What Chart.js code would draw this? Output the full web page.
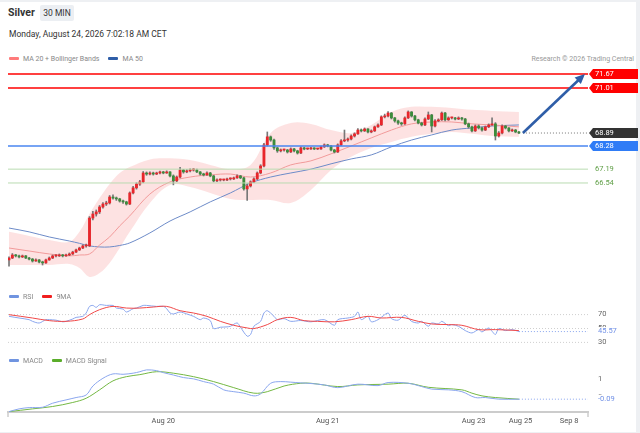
<!DOCTYPE html>
<html>
<head>
<meta charset="utf-8">
<script src="https://cdn.jsdelivr.net/npm/chart.js@4.4.1/dist/chart.umd.min.js"></script>
<style>
  body { margin: 0; width: 640px; height: 433px; background: #eef0f3; font-family: Roboto, Arial, sans-serif; overflow: hidden; }
  #panel { position: absolute; left: 0; top: 2px; width: 636px; height: 430px; background: #fff; }
  .abs { position: absolute; white-space: nowrap; }
  .title { left: 8px; top: 5px; font-size: 10.5px; font-weight: bold; color: #333; line-height: 16px; }
  .badge { left: 40px; top: 5px; width: 34px; height: 16px; background: #eceff3; border-radius: 2px;
           font-size: 8.5px; color: #333; line-height: 16px; text-align: center; }
  .date { left: 9px; top: 28px; font-size: 8.5px; color: #333; line-height: 12px; }
  .legend { font-size: 7px; color: #888; line-height: 10px; }
  .legend i { display: inline-block; width: 10px; height: 3.5px; border-radius: 1px; vertical-align: middle; margin: 0 4px 1px 0; }
  .legend span { margin-right: 9px; }
  .credit { right: 6px; top: 54px; font-size: 7px; color: #999; line-height: 10px; }
  .box { position: absolute; left: 0; width: 640px; }
</style>
</head>
<body>
<div id="panel"></div>
<div class="abs title">Silver</div>
<div class="abs badge">30 MIN</div>
<div class="abs date">Monday, August 24, 2026 7:02:18 AM CET</div>
<div class="abs legend" style="left:9px;top:54px"><span><i style="background:#ff7b7b"></i>MA 20 + Bollinger Bands</span><span><i style="background:#2f5ea8"></i>MA 50</span></div>
<div class="abs credit">Research © 2026 Trading Central</div>

<div class="box" style="top:65px;height:220px"><canvas id="price"></canvas></div>
<div class="box" style="top:300px;height:50px"><canvas id="rsi"></canvas></div>
<div class="box" style="top:360px;height:73px"><canvas id="macd"></canvas></div>

<div class="abs legend" style="left:9px;top:292px;z-index:2"><span><i style="background:#7094e0"></i>RSI</span><span><i style="background:#f01e1e"></i>9MA</span></div>
<div class="abs legend" style="left:9px;top:356px;z-index:2"><span><i style="background:#7094e0"></i>MACD</span><span><i style="background:#5aad2a"></i>MACD Signal</span></div>

<script>
// 30 min candles, index 0 = first bar on the left
const opens = [
  62.92, 63.01, 63.15, 63.11, 63.06, 63.11, 63.01, 62.96, 62.87, 62.92,
  62.82, 62.78, 62.92, 63.01, 63.11, 63.11, 63.15, 63.11, 63.15, 63.20,
  63.29, 63.39, 63.48, 63.58, 63.58, 64.89, 65.08, 65.18, 65.41, 65.55,
  65.60, 65.88, 65.83, 65.79, 65.69, 65.65, 65.55, 66.07, 66.31, 66.49,
  66.59, 67.01, 66.96, 67.01, 66.96, 67.01, 67.06, 67.01, 67.06, 66.87,
  66.64, 66.82, 67.15, 67.06, 67.11, 67.15, 67.15, 67.06, 66.96, 66.92,
  67.01, 66.87, 66.64, 66.68, 66.68, 66.68, 66.73, 66.73, 66.78, 66.87,
  66.78, 66.26, 66.40, 66.59, 66.73, 67.01, 67.34, 68.33, 68.71, 68.56,
  68.19, 68.05, 68.09, 68.09, 68.00, 68.14, 68.05, 67.95, 68.19, 68.14,
  68.14, 68.19, 68.14, 68.14, 68.24, 68.33, 68.28, 68.09, 68.00, 68.33,
  68.52, 68.56, 68.61, 68.75, 68.85, 69.03, 68.99, 69.08, 68.94, 68.99,
  69.18, 69.27, 69.65, 69.69, 69.83, 69.60, 69.46, 69.36, 69.32, 69.60,
  69.88, 69.69, 69.51, 69.36, 69.27, 69.55, 69.74, 69.22, 69.46, 69.51,
  69.83, 69.51, 69.60, 69.60, 69.55, 69.60, 69.55, 69.32, 69.18, 68.99,
  69.22, 69.13, 69.03, 69.18, 69.27, 69.32, 68.75, 68.89, 69.22, 69.13,
  68.99, 69.03, 68.94
];
const highs = [
  63.06, 63.22, 63.18, 63.15, 63.15, 63.13, 63.04, 62.99, 62.97, 62.94,
  62.86, 62.96, 63.06, 63.15, 63.17, 63.20, 63.18, 63.19, 63.25, 63.33,
  63.43, 63.52, 63.63, 63.66, 64.96, 65.20, 65.27, 65.48, 65.62, 65.68,
  65.95, 65.98, 65.88, 65.82, 65.73, 65.68, 66.12, 66.38, 66.55, 66.66,
  67.08, 67.06, 67.06, 67.05, 67.05, 67.10, 67.09, 67.11, 67.08, 66.92,
  66.87, 67.28, 67.18, 67.17, 67.20, 67.22, 67.19, 67.08, 67.00, 67.06,
  67.04, 66.90, 66.73, 66.73, 66.72, 66.77, 66.78, 66.82, 66.92, 66.90,
  66.81, 66.50, 66.64, 66.78, 67.06, 67.40, 68.40, 68.94, 68.75, 68.60,
  68.22, 68.14, 68.14, 68.12, 68.19, 68.17, 68.08, 68.24, 68.22, 68.18,
  68.22, 68.20, 68.17, 68.28, 68.38, 68.36, 68.31, 68.12, 68.38, 68.58,
  69.03, 68.66, 68.80, 68.90, 69.10, 69.08, 69.13, 69.10, 69.04, 69.22,
  69.32, 69.70, 69.78, 69.90, 69.86, 69.63, 69.50, 69.40, 69.65, 69.93,
  69.90, 69.72, 69.54, 69.40, 69.60, 69.88, 69.77, 69.52, 69.56, 69.88,
  69.86, 69.65, 69.64, 69.63, 69.65, 69.63, 69.58, 69.36, 69.22, 69.27,
  69.27, 69.17, 69.22, 69.32, 69.60, 69.38, 68.96, 69.27, 69.25, 69.15,
  69.08, 69.06, 68.97
];
const lows = [
  62.63, 62.98, 63.06, 63.01, 63.03, 62.98, 62.92, 62.82, 62.85, 62.78,
  62.68, 62.75, 62.90, 62.98, 63.06, 63.08, 63.06, 63.08, 63.12, 63.17,
  63.26, 63.36, 63.45, 63.52, 63.55, 64.80, 64.98, 65.10, 65.36, 65.48,
  65.55, 65.78, 65.72, 65.64, 65.58, 65.50, 65.52, 66.02, 66.25, 66.42,
  66.55, 66.90, 66.92, 66.91, 66.93, 66.97, 66.97, 66.99, 66.82, 66.45,
  66.60, 66.78, 67.00, 67.02, 67.06, 67.10, 67.02, 66.91, 66.87, 66.89,
  66.83, 66.59, 66.60, 66.63, 66.64, 66.65, 66.68, 66.70, 66.75, 66.74,
  66.20, 65.72, 66.35, 66.55, 66.70, 66.97, 67.30, 68.28, 68.50, 68.12,
  67.98, 68.00, 68.04, 67.95, 67.97, 68.00, 67.90, 67.92, 68.10, 68.11,
  68.12, 68.11, 68.11, 68.12, 68.21, 68.24, 68.05, 67.95, 67.97, 68.30,
  68.48, 68.50, 68.57, 68.70, 68.82, 68.94, 68.96, 68.89, 68.90, 68.96,
  69.15, 69.24, 69.60, 69.65, 69.55, 69.40, 69.30, 69.25, 69.30, 69.57,
  69.64, 69.46, 69.32, 69.22, 69.24, 69.52, 68.94, 69.18, 69.42, 69.48,
  69.46, 69.48, 69.55, 69.51, 69.52, 69.50, 69.28, 69.12, 68.94, 68.96,
  69.08, 68.98, 69.00, 69.14, 69.25, 68.56, 68.70, 68.85, 69.08, 68.94,
  68.96, 68.90, 68.86
];
const closes = [
  63.01, 63.15, 63.11, 63.06, 63.11, 63.01, 62.96, 62.87, 62.92, 62.82,
  62.78, 62.92, 63.01, 63.11, 63.11, 63.15, 63.11, 63.15, 63.20, 63.29,
  63.39, 63.48, 63.58, 63.58, 64.89, 65.08, 65.18, 65.41, 65.55, 65.60,
  65.88, 65.83, 65.79, 65.69, 65.65, 65.55, 66.07, 66.31, 66.49, 66.59,
  67.01, 66.96, 67.01, 66.96, 67.01, 67.06, 67.01, 67.06, 66.87, 66.64,
  66.82, 67.15, 67.06, 67.11, 67.15, 67.15, 67.06, 66.96, 66.92, 67.01,
  66.87, 66.64, 66.68, 66.68, 66.68, 66.73, 66.73, 66.78, 66.87, 66.78,
  66.26, 66.40, 66.59, 66.73, 67.01, 67.34, 68.33, 68.71, 68.56, 68.19,
  68.05, 68.09, 68.09, 68.00, 68.14, 68.05, 67.95, 68.19, 68.14, 68.14,
  68.19, 68.14, 68.14, 68.24, 68.33, 68.28, 68.09, 68.00, 68.33, 68.52,
  68.56, 68.61, 68.75, 68.85, 69.03, 68.99, 69.08, 68.94, 68.99, 69.18,
  69.27, 69.65, 69.69, 69.83, 69.60, 69.46, 69.36, 69.32, 69.60, 69.88,
  69.69, 69.51, 69.36, 69.27, 69.55, 69.74, 69.22, 69.46, 69.51, 69.83,
  69.51, 69.60, 69.60, 69.55, 69.60, 69.55, 69.32, 69.18, 68.99, 69.22,
  69.13, 69.03, 69.18, 69.27, 69.32, 68.75, 68.89, 69.22, 69.13, 68.99,
  69.03, 68.94, 68.89
];

// moving averages and bands, read at these candle indexes
const bandAt = [0, 6, 12, 18, 21, 24, 27, 30, 33, 36, 42, 48, 54, 60, 66, 72, 78, 84, 90, 96, 102, 108, 114, 120, 126, 132, 138, 144, 152];
const bandUpper = [64.24, 64.05, 63.86, 63.77, 64.24, 65.08, 65.83, 66.49, 67.01, 67.29, 67.65, 67.70, 67.62, 67.39, 67.19, 67.39, 68.89, 69.36, 69.32, 69.03, 68.89, 69.27, 69.88, 70.12, 70.12, 70.07, 69.98, 69.93, 69.88];
const bandLower = [62.68, 62.68, 62.68, 62.73, 62.54, 62.12, 62.30, 62.78, 63.48, 64.24, 65.60, 66.45, 66.35, 66.07, 65.79, 65.74, 65.74, 65.60, 66.21, 67.15, 67.77, 68.19, 68.47, 68.71, 68.85, 68.94, 68.85, 68.75, 68.71];
const ma20 = [63.48, 63.34, 63.20, 63.11, 63.15, 63.20, 63.62, 64.00, 64.52, 64.99, 66.02, 66.59, 66.82, 66.92, 66.96, 66.82, 67.01, 67.39, 67.58, 67.91, 68.28, 68.66, 69.03, 69.32, 69.41, 69.41, 69.32, 69.27, 69.18];
const ma50 = [64.42, 64.24, 64.00, 63.81, 63.70, 63.58, 63.53, 63.53, 63.60, 63.72, 64.19, 64.75, 65.18, 65.65, 66.07, 66.54, 66.82, 67.01, 67.19, 67.44, 67.67, 67.86, 68.24, 68.56, 68.80, 69.03, 69.13, 69.22, 69.27];

const rsiAt = [0, 3, 6, 7, 9, 11, 12, 14, 16, 17, 19, 20, 22, 23, 24, 25, 26, 27, 29, 31, 32, 34, 35, 37, 38, 40, 41, 44, 46, 47, 48, 49, 51, 53, 55, 57, 58, 60, 61, 63, 65, 66, 68, 69, 71, 72, 73, 75, 76, 77, 79, 80, 82, 84, 87, 90, 94, 97, 98, 101, 103, 104, 105, 107, 108, 110, 113, 114, 116, 118, 120, 122, 123, 125, 126, 128, 129, 131, 132, 134, 136, 138, 140, 141, 143, 144, 145, 146, 148, 150, 152];
const rsiValues = [67.5, 65.1, 62.7, 60.3, 57.9, 62.7, 62.7, 62.0, 59.6, 60.3, 63.7, 66.0, 67.5, 72.3, 81.8, 83.2, 80.4, 84.2, 83.2, 83.2, 79.4, 78.0, 73.7, 78.5, 79.4, 83.2, 83.2, 81.8, 81.8, 78.5, 72.3, 70.9, 73.7, 70.9, 67.5, 62.7, 65.1, 61.3, 49.9, 51.8, 52.3, 53.2, 58.0, 51.8, 38.9, 41.3, 53.2, 60.3, 72.3, 75.6, 67.5, 62.7, 64.2, 60.3, 61.5, 59.6, 62.7, 54.6, 62.7, 65.1, 67.5, 73.7, 62.7, 67.5, 59.6, 62.7, 72.3, 64.2, 62.0, 69.0, 60.3, 57.9, 60.3, 53.2, 57.9, 56.5, 60.3, 54.1, 55.6, 53.2, 47.0, 43.6, 48.4, 45.1, 50.8, 46.0, 41.3, 49.9, 47.0, 48.4, 45.57];
const rsiMaAt = [0, 7, 12, 17, 22, 24, 27, 31, 35, 39, 43, 47, 51, 55, 59, 63, 67, 71, 73, 77, 80, 84, 88, 92, 97, 102, 107, 111, 117, 122, 126, 131, 135, 140, 145, 152];
const rsiMaValues = [69.9, 65.1, 61.3, 60.3, 63.7, 69.9, 77.1, 81.8, 79.4, 79.4, 80.9, 81.8, 75.6, 72.3, 67.5, 60.3, 54.6, 50.8, 49.9, 55.6, 62.7, 66.0, 61.3, 60.3, 59.6, 62.7, 67.5, 65.1, 66.0, 60.3, 56.5, 55.6, 54.6, 48.4, 48.4, 47.0];

const macdAt = [0, 3, 6, 10, 13, 17, 20, 23, 25, 28, 31, 34, 37, 39, 41, 44, 46, 49, 52, 55, 58, 61, 64, 67, 70, 73, 75, 78, 81, 84, 87, 89, 94, 98, 104, 110, 113, 119, 123, 126, 131, 135, 139, 142, 146, 152];
const macdValues = [-0.77, -0.62, -0.55, -0.53, -0.31, -0.13, 0.00, 0.14, 0.63, 1.05, 1.29, 1.27, 1.33, 1.41, 1.51, 1.47, 1.36, 1.23, 1.09, 1.02, 0.87, 0.73, 0.42, 0.32, 0.24, 0.09, 0.20, 0.78, 0.87, 0.84, 0.80, 0.78, 0.69, 0.54, 0.73, 0.65, 0.82, 0.78, 0.60, 0.46, 0.42, 0.32, 0.00, 0.00, -0.09, -0.09];
const signalAt = [0, 7, 13, 19, 23, 27, 31, 35, 39, 44, 49, 55, 61, 67, 73, 77, 82, 87, 90, 98, 104, 113, 119, 125, 135, 138, 141, 145, 152];
const signalValues = [-0.77, -0.62, -0.49, -0.27, -0.04, 0.42, 0.91, 1.14, 1.25, 1.41, 1.33, 1.14, 0.87, 0.54, 0.24, 0.32, 0.63, 0.78, 0.78, 0.60, 0.69, 0.73, 0.78, 0.56, 0.42, 0.24, 0.09, 0.00, -0.09];

const tickAt = [46, 95, 138.5, 152.5, 167];
const tickLabels = ['Aug 20', 'Aug 21', 'Aug 23', 'Aug 25', 'Sep 8'];

const resistances = [71.67, 71.01];
const pivotLevel = 68.28;
const supports = [67.19, 66.54];
const lastPrice = 68.89;
const targetPrice = 71.67;
const rsiLevels = [70, 50, 30];
const rsiLast = 45.57;
const macdLabels = [1, 0];
const macdLast = -0.09;

const xMin = -0.3, xMax = 172.6;
const arrowFrom = 153.2, arrowTo = 171.7;
const FONT = 'Roboto, Arial, sans-serif';
const pad = { left: 8, right: 52, top: 0, bottom: 0 };

function pts(at, vals) {
  return at.map((x, i) => ({ x: x, y: vals[i] }));
}

function hiddenX() {
  return { type: 'linear', min: xMin, max: xMax, display: false, offset: false };
}

function line(data, color, order, extra) {
  return Object.assign({
    type: 'line', data: data, borderColor: color, borderWidth: 1,
    pointRadius: 0, tension: 0.35, fill: false, order: order,
  }, extra || {});
}

const baseOptions = {
  responsive: true,
  maintainAspectRatio: false,
  animation: false,
  events: [],
  layout: { padding: pad },
  plugins: { legend: { display: false }, tooltip: { enabled: false } },
};

function hline(ctx, a, yPix, color, width, dash) {
  ctx.save();
  ctx.strokeStyle = color;
  ctx.lineWidth = width;
  ctx.setLineDash(dash || []);
  ctx.beginPath();
  ctx.moveTo(a.left, yPix);
  ctx.lineTo(a.right, yPix);
  ctx.stroke();
  ctx.restore();
}

function tag(ctx, a, yPix, text, bg) {
  const x0 = a.right + 1;
  ctx.fillStyle = bg;
  ctx.beginPath();
  ctx.moveTo(x0, yPix);
  ctx.lineTo(x0 + 4, yPix - 5);
  ctx.lineTo(638, yPix - 5);
  ctx.lineTo(638, yPix + 5);
  ctx.lineTo(x0 + 4, yPix + 5);
  ctx.closePath();
  ctx.fill();
  ctx.fillStyle = '#fff';
  ctx.font = '7.5px ' + FONT;
  ctx.textBaseline = 'middle';
  ctx.fillText(text, a.right + 7, yPix + 0.5);
}

function sideText(ctx, a, yPix, text, color) {
  ctx.fillStyle = color;
  ctx.font = '7.5px ' + FONT;
  ctx.textBaseline = 'middle';
  ctx.fillText(text, a.right + 10, yPix);
}

// last value label covers part of the tick label under it
function lastValue(ctx, a, fromPix, yPix, text) {
  ctx.save();
  ctx.strokeStyle = '#8aa6ee';
  ctx.lineWidth = 1;
  ctx.setLineDash([1, 2]);
  ctx.beginPath();
  ctx.moveTo(fromPix, yPix);
  ctx.lineTo(a.right, yPix);
  ctx.stroke();
  ctx.restore();
  ctx.fillStyle = '#fff';
  ctx.fillRect(a.right + 6, yPix - 4.5, 40, 9);
  sideText(ctx, a, yPix, text, '#6f8fe6');
}

const levelsPlugin = {
  id: 'levels',
  afterDatasetsDraw(chart) {
    const { ctx, chartArea: a, scales: { x, y } } = chart;
    resistances.forEach(v => hline(ctx, a, y.getPixelForValue(v), '#ff0000', 1.6));
    hline(ctx, a, y.getPixelForValue(pivotLevel), '#4a86f0', 1.4);
    supports.forEach(v => hline(ctx, a, y.getPixelForValue(v), '#b9dcb1', 1));

    const x0 = x.getPixelForValue(arrowFrom);
    const y0 = y.getPixelForValue(lastPrice);
    ctx.save();
    ctx.strokeStyle = '#777';
    ctx.lineWidth = 1;
    ctx.setLineDash([1, 2]);
    ctx.beginPath();
    ctx.moveTo(x0, y0);
    ctx.lineTo(a.right, y0);
    ctx.stroke();
    ctx.restore();

    // projection arrow
    const x1 = x.getPixelForValue(arrowTo);
    const y1 = y.getPixelForValue(targetPrice);
    const ang = Math.atan2(y1 - y0, x1 - x0);
    ctx.save();
    ctx.strokeStyle = '#2f5ea8';
    ctx.fillStyle = '#2f5ea8';
    ctx.lineWidth = 2.6;
    ctx.beginPath();
    ctx.moveTo(x0, y0);
    ctx.lineTo(x1 - 7 * Math.cos(ang), y1 - 7 * Math.sin(ang));
    ctx.stroke();
    ctx.beginPath();
    ctx.moveTo(x1, y1);
    ctx.lineTo(x1 - 10 * Math.cos(ang) + 4.5 * Math.sin(ang), y1 - 10 * Math.sin(ang) - 4.5 * Math.cos(ang));
    ctx.lineTo(x1 - 10 * Math.cos(ang) - 4.5 * Math.sin(ang), y1 - 10 * Math.sin(ang) + 4.5 * Math.cos(ang));
    ctx.closePath();
    ctx.fill();
    ctx.restore();

    resistances.forEach(v => tag(ctx, a, y.getPixelForValue(v), v.toFixed(2), '#ff0000'));
    tag(ctx, a, y0, lastPrice.toFixed(2), '#333333');
    tag(ctx, a, y.getPixelForValue(pivotLevel), pivotLevel.toFixed(2), '#2f7cf6');
    supports.forEach(v => {
      ctx.fillStyle = '#5e9e45';
      ctx.font = '7.5px ' + FONT;
      ctx.textBaseline = 'middle';
      ctx.fillText(v.toFixed(2), a.right + 7, y.getPixelForValue(v));
    });
  }
};

const isUp = ctx => closes[ctx.dataIndex] >= opens[ctx.dataIndex];

new Chart(document.getElementById('price'), {
  type: 'line',
  data: {
    datasets: [
      {
        type: 'bar', data: closes.map((c, i) => ({ x: i, y: [opens[i], c] })),
        backgroundColor: ctx => isUp(ctx) ? '#e8262b' : '#3c8c3c',
        barThickness: 2.2, minBarLength: 1, grouped: false, order: 0,
      },
      {
        type: 'bar', data: closes.map((c, i) => ({ x: i, y: [lows[i], highs[i]] })),
        backgroundColor: '#777', barThickness: 1, grouped: false, order: 1,
      },
      line(pts(bandAt, ma20), '#f19a9a', 2),
      line(pts(bandAt, ma50), '#6d8bc8', 2),
      line(pts(bandAt, bandUpper), 'transparent', 3, { fill: '+1', backgroundColor: 'rgba(250, 190, 190, 0.45)' }),
      line(pts(bandAt, bandLower), 'transparent', 3),
    ]
  },
  options: Object.assign({}, baseOptions, {
    scales: { x: hiddenX(), y: { display: false, min: 61.74, max: 72.09 } }
  }),
  plugins: [levelsPlugin],
});

const rsiPlugin = {
  id: 'rsiGuides',
  beforeDatasetsDraw(chart) {
    const { ctx, chartArea: a, scales: { y } } = chart;
    rsiLevels.forEach(v => hline(ctx, a, y.getPixelForValue(v), '#cfcfcf', 1, [1, 2]));
  },
  afterDatasetsDraw(chart) {
    const { ctx, chartArea: a, scales: { x, y } } = chart;
    rsiLevels.forEach(v => sideText(ctx, a, y.getPixelForValue(v), String(v), '#666'));
    lastValue(ctx, a, x.getPixelForValue(rsiAt[rsiAt.length - 1]), y.getPixelForValue(rsiLast), rsiLast.toFixed(2));
  }
};

new Chart(document.getElementById('rsi'), {
  type: 'line',
  data: {
    datasets: [
      line(pts(rsiMaAt, rsiMaValues), '#f04848', 0),
      line(pts(rsiAt, rsiValues), '#8aa6ee', 1, { tension: 0.3 }),
    ]
  },
  options: Object.assign({}, baseOptions, {
    scales: { x: hiddenX(), y: { display: false, min: 19.06, max: 91.0 } }
  }),
  plugins: [rsiPlugin],
});

const macdPlugin = {
  id: 'macdGuides',
  afterDraw(chart) {
    const { ctx, chartArea: a, scales: { x, y } } = chart;
    macdLabels.forEach(v => sideText(ctx, a, y.getPixelForValue(v), String(v), '#666'));
    lastValue(ctx, a, x.getPixelForValue(macdAt[macdAt.length - 1]), y.getPixelForValue(macdLast), macdLast.toFixed(2));
    ctx.save();
    ctx.strokeStyle = '#cccccc';
    ctx.lineWidth = 1.5;
    [a.left, a.right].forEach(px => {
      ctx.beginPath();
      ctx.moveTo(px, a.bottom);
      ctx.lineTo(px, a.bottom + 5);
      ctx.stroke();
    });
    ctx.restore();
  }
};

new Chart(document.getElementById('macd'), {
  type: 'line',
  data: {
    datasets: [
      line(pts(macdAt, macdValues), '#8aa6ee', 0),
      line(pts(signalAt, signalValues), '#74b843', 1),
    ]
  },
  options: Object.assign({}, baseOptions, {
    scales: {
      x: {
        type: 'linear', min: xMin, max: xMax, offset: false,
        grid: { display: false, drawTicks: false },
        border: { display: true, color: '#cccccc', width: 2 },
        afterBuildTicks: scale => { scale.ticks = tickAt.map(v => ({ value: v })); },
        afterFit: scale => { scale.height = 21; },
        ticks: {
          autoSkip: false, maxRotation: 0, padding: 5, color: '#555',
          font: { family: FONT, size: 7.5 },
          callback: (value, index) => tickLabels[index],
        },
      },
      y: { display: false, min: -0.79, max: 2.05 },
    }
  }),
  plugins: [macdPlugin],
});
</script>
</body>
</html>
